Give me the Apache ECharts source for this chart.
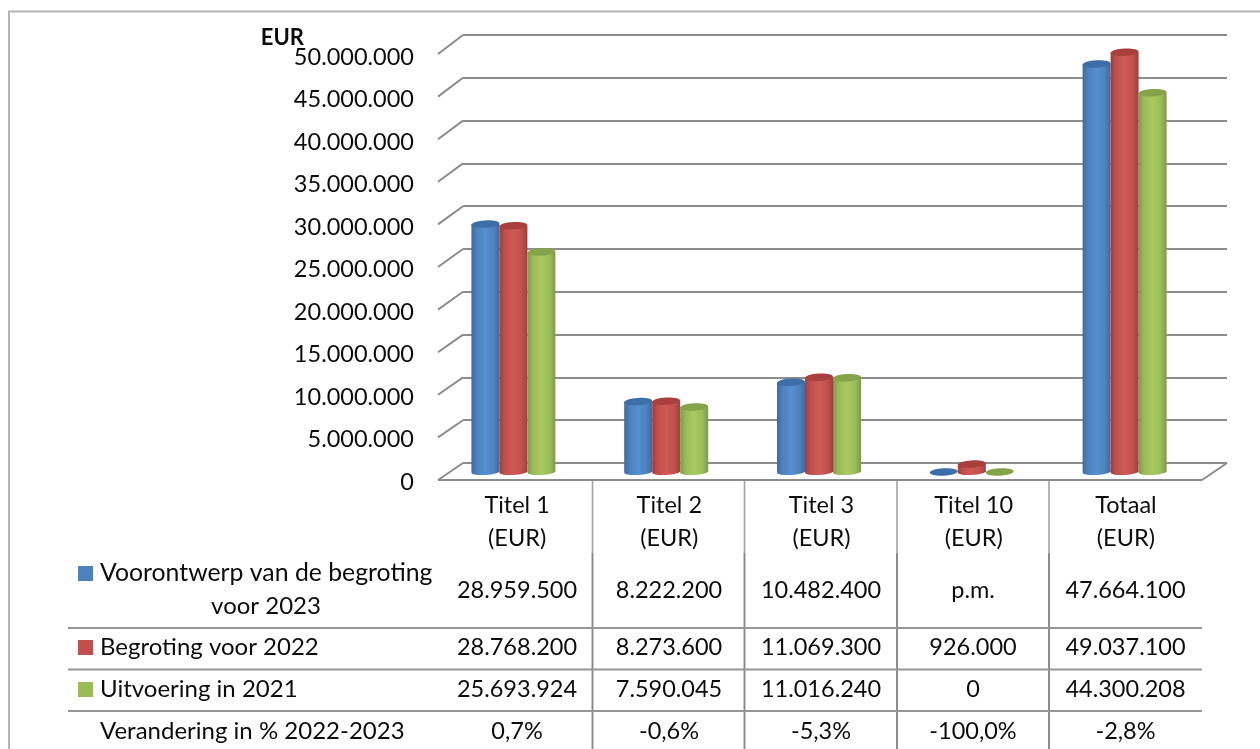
<!DOCTYPE html>
<html><head><meta charset="utf-8">
<style>html,body{margin:0;padding:0;background:#fff}#c{width:1260px;height:749px}</style>
<script src="https://cdn.jsdelivr.net/npm/echarts@6/dist/echarts.min.js"></script>
</head><body><div id="c"></div>
<script>
const categories = ['Titel 1\n(EUR)', 'Titel 2\n(EUR)', 'Titel 3\n(EUR)', 'Titel 10\n(EUR)', 'Totaal\n(EUR)'];
const voorontwerp = [28959500, 8222200, 10482400, 0, 47664100];
const begroting = [28768200, 8273600, 11069300, 926000, 49037100];
const uitvoering = [25693924, 7590045, 11016240, 0, 44300208];
const verandering = ['0,7%', '-0,6%', '-5,3%', '-100,0%', '-2,8%'];
const voorontwerpText = ['28.959.500', '8.222.200', '10.482.400', 'p.m.', '47.664.100'];
const begrotingText = ['28.768.200', '8.273.600', '11.069.300', '926.000', '49.037.100'];
const uitvoeringText = ['25.693.924', '7.590.045', '11.016.240', '0', '44.300.208'];
const yTicks = [0, 5e6, 10e6, 15e6, 20e6, 25e6, 30e6, 35e6, 40e6, 45e6, 50e6];
const names = ['Voorontwerp van de begroting voor 2023', 'Begroting voor 2022', 'Uitvoering in 2021'];

const FONT = 'Lato';
const FS = 23.5;
const INK = '#0c0c0c';
const GRID = '#8c8c8c';
const palettes = [
  {base:'#4f81bd', edge:'#3f6a9e', mid:'#5590d0', top:'#3d6ea8'},
  {base:'#c0504d', edge:'#9c403d', mid:'#cf5a56', top:'#a9403d'},
  {base:'#9bbb59', edge:'#7f9a49', mid:'#a8ca61', top:'#85a44a'}
];
const fmt = v => String(v).replace(/\B(?=(\d{3})+$)/g, '.');

function cylinder(pal, offsetIndex) {
  return function (params, api) {
    const base = api.coord([api.value(0), 0]);
    const top = api.coord([api.value(0), api.value(1)]);
    const w = 28, rx = 14, ry = 3.7, tilt = 0.05;
    const cx = base[0] + (offsetIndex - 1) * w;
    const grad = {type:'linear', x:0, y:0, x2:1, y2:0, colorStops:[
      {offset:0, color:pal.edge}, {offset:.2, color:pal.base}, {offset:.5, color:pal.mid},
      {offset:.8, color:pal.base}, {offset:1, color:pal.edge}]};
    const children = [];
    if (base[1] - top[1] > 0.5) {
      children.push({type:'ellipse', x:cx, y:base[1], rotation:tilt, shape:{cx:0, cy:0, rx, ry:3}, style:{fill:grad}});
      children.push({type:'rect', shape:{x:cx - rx, y:top[1], width:w, height:base[1] - top[1]}, style:{fill:grad}});
    }
    children.push({type:'ellipse', x:cx, y:top[1], rotation:tilt, shape:{cx:0, cy:0, rx, ry}, style:{fill:pal.top}});
    return {type:'group', children};
  };
}

function depthLines(params, api) {
  const p = api.coord([0, api.value(1)]);
  const frac = api.value(1) / 50e6;
  const dx = 25, dy = 17 + 2 * frac;
  const s = {stroke:GRID, lineWidth:2};
  const kids = [{type:'line', shape:{x1:p[0], y1:p[1], x2:p[0] - dx, y2:p[1] + dy}, style:s}];
  if (api.value(1) === 0) {
    const w = api.size([1, 0])[0];
    kids.push({type:'line', shape:{x1:p[0] - dx, y1:p[1] + dy, x2:p[0] - dx + w, y2:p[1] + dy}, style:s});
    kids.push({type:'line', shape:{x1:p[0] - dx + w, y1:p[1] + dy, x2:p[0] + w, y2:p[1]}, style:s});
  }
  return {type:'group', children:kids};
}

function barSeries(i, values) {
  return {
    type:'custom', name:names[i], xAxisIndex:2, yAxisIndex:2, z:5 + i, silent:true,
    renderItem:cylinder(palettes[i], i), itemStyle:{color:palettes[i].base},
    encode:{x:0, y:1}, data:values.map((v, k) => [k, v])
  };
}

// table furniture
const colCentres = [517, 669, 821, 973, 1125.5];
const colRules = [592.5, 744.5, 897, 1049];
const rowRules = [628, 669.5, 711];
const rows = [
  {y:590, cells:voorontwerpText},
  {y:647, cells:begrotingText},
  {y:689, cells:uitvoeringText},
  {y:731, cells:verandering}
];
const rowLabels = [
  {x:100, y:573, text:'Voorontwerp van de begroting', align:'left', size:24.8},
  {x:266, y:606, text:'voor 2023', align:'center', size:24},
  {x:100, y:647, text:names[1], align:'left', size:24},
  {x:100, y:689, text:names[2], align:'left', size:24},
  {x:100, y:731, text:'Verandering in % 2022-2023', align:'left', size:24}
];
const txt = (x, y, text, align, size) => ({type:'text', x, y, silent:true,
  style:{text, fontFamily:FONT, fontSize:size || FS, fill:INK, align, verticalAlign:'middle'}});
const graphics = [
  {type:'polyline', shape:{points:[[9, 800], [9, 11.5], [1262, 11.5]]}, style:{fill:'none', stroke:'#b4b4b4', lineWidth:2}, silent:true, z:-1},
  ...colRules.map(x => ({type:'line', shape:{x1:x, y1:481, x2:x, y2:553}, style:{stroke:'#a2a2a2', lineWidth:1.6}, silent:true})),
  ...colRules.map(x => ({type:'line', shape:{x1:x, y1:553, x2:x, y2:749}, style:{stroke:GRID, lineWidth:2}, silent:true})),
  ...rowRules.map(y => ({type:'line', shape:{x1:68, y1:y, x2:1202, y2:y}, style:{stroke:'#969696', lineWidth:2}, silent:true})),
  ...rowLabels.map(r => txt(r.x, r.y, r.text, r.align, r.size)),
  ...rows.flatMap(r => r.cells.map((c, i) => txt(colCentres[i], r.y, c, 'center')))
];

const chart = echarts.init(document.getElementById('c'), null, {renderer:'canvas'});
const swatchTops = [566, 640, 682];
chart.setOption({
  animation:false,
  backgroundColor:'#ffffff',
  textStyle:{fontFamily:FONT},
  legend:names.map((n, i) => ({
    data:[n], left:78, top:swatchTops[i], itemWidth:15, itemHeight:15, itemGap:0, padding:0,
    selectedMode:false, icon:'rect', formatter:() => '', textStyle:{fontSize:1}
  })),
  grid:[
    {left:441, width:761, top:57, height:425},
    {left:463, width:764, top:35, height:428},
    {left:437, width:764, top:44, height:428}
  ],
  xAxis:[
    {gridIndex:0, type:'category', data:categories, axisLine:{show:false}, axisTick:{show:false},
     axisLabel:{color:INK, fontSize:FS, fontFamily:FONT, lineHeight:33, margin:7}},
    {gridIndex:1, type:'value', min:0, max:1, show:false},
    {gridIndex:2, type:'category', data:categories, show:false}
  ],
  yAxis:[
    {gridIndex:0, type:'value', min:0, max:50e6, interval:5e6, splitLine:{show:false},
     axisLine:{show:false}, axisTick:{show:false}, name:'EUR', nameLocation:'end', nameGap:19, nameMoveOverlap:false,
     nameTextStyle:{fontFamily:FONT, fontSize:22, fontWeight:'bold', color:INK, align:'right', verticalAlign:'middle', padding:[0, 137, 0, 0]},
     axisLabel:{color:INK, fontSize:FS, fontFamily:FONT, margin:27, formatter:v => fmt(v)}},
    {gridIndex:1, type:'value', min:0, max:50e6, interval:5e6, axisLine:{show:false}, axisTick:{show:false}, axisLabel:{show:false},
     splitLine:{show:true, lineStyle:{color:GRID, width:2}}},
    {gridIndex:2, type:'value', min:0, max:50e6, show:false, splitLine:{show:false}}
  ],
  series:[
    {type:'custom', name:'diepte', xAxisIndex:1, yAxisIndex:1, silent:true, z:1, renderItem:depthLines,
     encode:{x:0, y:1}, data:yTicks.map(t => [0, t])},
    barSeries(0, voorontwerp),
    barSeries(1, begroting),
    barSeries(2, uitvoering)
  ],
  graphic:graphics
});
</script></body></html>
